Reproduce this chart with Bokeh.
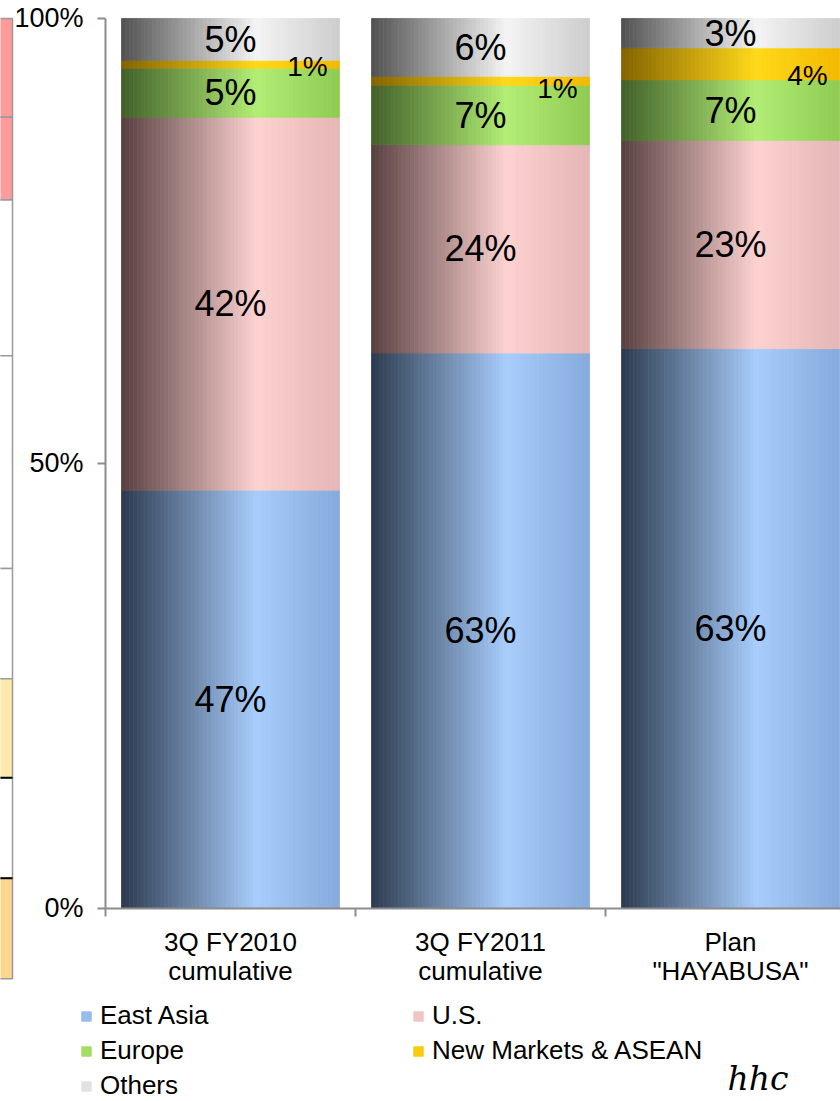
import numpy as np
from bokeh.plotting import figure
from bokeh.models import (Range1d, FixedTicker, LinearAxis, Legend, LegendItem,
                          ColumnDataSource, Label)
from bokeh.embed import file_html
from bokeh.resources import INLINE
from bokeh.core.properties import value

# ---------------- data ----------------
categories = ["3Q FY2010\ncumulative", "3Q FY2011\ncumulative", "Plan\n\"HAYABUSA\""]
series_names = ["East Asia", "U.S.", "Europe", "New Markets & ASEAN", "Others"]
east_asia = [47.0, 62.4, 62.9]
us = [41.9, 23.4, 23.4]
europe = [5.5, 6.7, 6.8]
new_markets = [0.9, 1.0, 3.6]
others = [4.7, 6.5, 3.3]
east_asia_labels = ["47%", "63%", "63%"]
us_labels = ["42%", "24%", "23%"]
europe_labels = ["5%", "7%", "7%"]
new_markets_labels = ["1%", "1%", "4%"]
others_labels = ["5%", "6%", "3%"]
y_ticks = [0, 50, 100]
y_tick_labels = ["0%", "50%", "100%"]

# fragment of the neighbouring chart, cut off at the left edge of the picture
neighbor_edges = [100, 88.9, 79.6, 62.1, 38.2, 25.8, 14.7, 3.4, -7.9]
neighbor_fills = ["#ff9b9b", "#ff9b9b", "#ffffff", "#ffffff", "#ffffff",
                  "#ffe9aa", "#ffffff", "#fdd88c"]
neighbor_dark_lines = [14.7, 3.4]
neighbor_x = [-0.95, -0.872]

# ---------------- styles ----------------
FONT = "Liberation Sans"
series_values = [east_asia, us, europe, new_markets, others]
series_labels = [east_asia_labels, us_labels, europe_labels,
                 new_markets_labels, others_labels]
gradients = [  # left edge, highlight, right edge
    ("#2c3a4f", "#a8cdfc", "#86aadb"),
    ("#584040", "#fdd2d1", "#e4b6b5"),
    ("#42602a", "#b2ed74", "#8fcb52"),
    ("#846300", "#ffd91a", "#f2b900"),
    ("#515151", "#f4f4f4", "#cdcdcd"),
]
nm_label_nudge = [2, 8, 12]   # px, small-segment label nudges (style)


def hex2rgb(h):
    h = h.lstrip("#")
    return np.array([int(h[i:i + 2], 16) for i in (0, 2, 4)], float)


def rgb2hex(c):
    c = np.clip(np.round(c), 0, 255).astype(int)
    return "#%02x%02x%02x" % tuple(c)


def shade(c0, c1, c2, t, tp=0.62):
    a, b, c = hex2rgb(c0), hex2rgb(c1), hex2rgb(c2)
    if t <= tp:
        f = t / tp
        return rgb2hex(a + (b - a) * f)
    f = (t - tp) / (1 - tp)
    return rgb2hex(b + (c - b) * f)


xs = np.arange(len(categories), dtype=float)
bar_w = 0.872
n_strips = 56
legend_strip = int(0.8 * n_strips)   # strip whose colour is used as swatch

vals_arr = np.array(series_values, float)
tops = np.cumsum(vals_arr, axis=0)
bottoms = tops - vals_arr
mids = (tops + bottoms) / 2

# ---------------- figure ----------------
p = figure(width=840, height=1101, title=None, toolbar_location=None,
           output_backend="svg", x_axis_type=None,
           x_range=Range1d(-0.92, 2.44), y_range=Range1d(-21.69, 102.02),
           min_border=0, min_border_left=0, min_border_right=0,
           min_border_top=0, min_border_bottom=0)
p.outline_line_color = None
p.grid.visible = False
p.background_fill_color = "white"
p.border_fill_color = "white"

# neighbouring chart fragment
p.quad(left=neighbor_x[0], right=neighbor_x[1], bottom=neighbor_edges[1:],
       top=neighbor_edges[:-1], fill_color=neighbor_fills,
       line_color="#9a9a9a", line_width=1.5)
p.segment(x0=neighbor_x[0], x1=neighbor_x[1], y0=neighbor_dark_lines,
          y1=neighbor_dark_lines, line_color="black", line_width=2)

# bars: one renderer per series, horizontal gradient built from thin strips
series_renderers = []
for s, (c0, c1, c2) in enumerate(gradients):
    d = {"left": [], "right": [], "bottom": [], "top": [], "color": []}
    for i, x in enumerate(xs):
        for k in range(n_strips):
            t = (k + 0.5) / n_strips
            l = x - bar_w / 2 + k * bar_w / n_strips
            d["left"].append(l)
            d["right"].append(l + bar_w / n_strips)
            d["bottom"].append(bottoms[s, i])
            d["top"].append(tops[s, i])
            d["color"].append(shade(c0, c1, c2, t))
    r = p.quad(source=ColumnDataSource(d), left="left", right="right",
               bottom="bottom", top="top", fill_color="color",
               line_color="color", line_width=0.8)
    series_renderers.append(r)

# data labels
for s in range(len(series_names)):
    if s == 3:
        continue
    src = ColumnDataSource(dict(x=xs, y=mids[s], t=series_labels[s]))
    p.text(x="x", y="y", text="t", source=src, text_font=value(FONT),
           text_font_size=value("36px"), text_align="center",
           text_baseline="middle", text_color="black")
src_nm = ColumnDataSource(dict(x=xs, y=mids[3], t=series_labels[3],
                               dy=nm_label_nudge))
p.text(x="x", y="y", text="t", source=src_nm, x_offset=77, y_offset="dy",
       text_font=value(FONT), text_font_size=value("28px"),
       text_align="center", text_baseline="middle", text_color="black")

# y axis
yax = p.yaxis[0]
yax.fixed_location = -0.5
yax.bounds = (0, 100)
yax.ticker = FixedTicker(ticks=y_ticks)
yax.major_label_overrides = {t: l for t, l in zip(y_ticks, y_tick_labels)}
yax.major_tick_out = 8
yax.major_tick_in = 0
yax.minor_tick_line_color = None
yax.axis_line_color = "#8c8c8c"
yax.axis_line_width = 2
yax.major_tick_line_color = "#8c8c8c"
yax.major_tick_line_width = 2
yax.major_label_text_font = FONT
yax.major_label_text_font_size = "27px"
yax.major_label_text_color = "black"
yax.major_label_standoff = 14

# x axis: boundary ticks
boundaries = [x - 0.5 for x in xs]
xb = LinearAxis(ticker=FixedTicker(ticks=boundaries), fixed_location=0,
                bounds=(-0.5, 2.44),
                major_label_overrides={b: "" for b in boundaries},
                major_tick_out=8, major_tick_in=0,
                axis_line_color="#8c8c8c", axis_line_width=2,
                major_tick_line_color="#8c8c8c", major_tick_line_width=2,
                minor_tick_line_color=None, major_label_text_font_size="1px",
                major_label_standoff=0)
p.add_layout(xb, "below")
# x axis: category labels
xl = LinearAxis(ticker=FixedTicker(ticks=list(xs)), fixed_location=0,
                major_label_overrides={int(x): c for x, c in zip(xs, categories)},
                axis_line_color=None, major_tick_line_color=None,
                major_tick_out=0, major_tick_in=0,
                minor_tick_line_color=None, major_label_text_font=FONT,
                major_label_text_font_size="26px",
                major_label_text_color="black", major_label_standoff=19,
                major_label_text_line_height=0.95)
p.add_layout(xl, "below")

legend = Legend(items=[LegendItem(label=series_names[i],
                                  renderers=[series_renderers[i]],
                                  index=legend_strip)
                       for i in (0, 2, 4, 1, 3)],
                ncols=2, location=(80, 0), padding=0, margin=0,
                spacing=4, glyph_width=12, glyph_height=12, label_height=26,
                label_width=308, label_standoff=8,
                label_text_font=FONT, label_text_font_size="26px",
                label_text_color="black", border_line_color=None,
                background_fill_alpha=0)
p.add_layout(legend, "center")

p.add_layout(Label(x=2.11, y=-19.1, text="hhc", text_font="DejaVu Serif",
                   text_font_style="italic", text_font_size="33px",
                   text_align="center", text_baseline="middle",
                   text_color="black"))

open("out.html", "w").write(file_html(p, INLINE))
